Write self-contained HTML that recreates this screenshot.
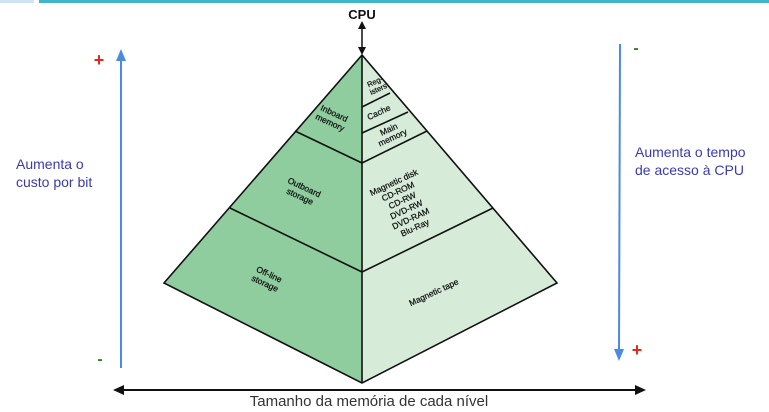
<!DOCTYPE html>
<html><head><meta charset="utf-8"><style>
html,body{margin:0;padding:0;background:#fff;}
svg{display:block;}
text{font-family:"Liberation Sans",sans-serif;}
</style></head><body>
<svg width="769" height="412" viewBox="0 0 769 412" xmlns="http://www.w3.org/2000/svg">
<rect x="0" y="0" width="34" height="3" fill="#cfe3f5"/>
<rect x="39" y="0" width="730" height="3" fill="#3fb6c8"/>
<polygon points="362,55 164,283 362,383" fill="#8fcd9f"/>
<polygon points="362,55 557,283 362,383" fill="#d6ecd9"/>
<g stroke="#111" stroke-width="1.6" fill="none">
<polygon points="362,55 164,283 362,383 557,283"/>
<line x1="362" y1="55" x2="362" y2="383"/>
<line x1="295" y1="131" x2="362" y2="163"/>
<line x1="230" y1="208" x2="362" y2="272"/>
<line x1="362" y1="163" x2="427" y2="131"/>
<line x1="362" y1="272" x2="493" y2="208"/>
<line x1="362" y1="107" x2="390" y2="93"/>
<line x1="362" y1="133" x2="408" y2="112"/>
</g>
<text x="362" y="19" font-size="13" font-weight="bold" text-anchor="middle" fill="#111">CPU</text>
<line x1="362" y1="27" x2="362" y2="50" stroke="#111" stroke-width="1.5"/>
<polygon points="362,21 358,29 366,29" fill="#111"/>
<polygon points="362,55 358,47 366,47" fill="#111"/>
<g font-size="8.5" fill="#111" text-anchor="middle" stroke="#111" stroke-width="0.25">
<text transform="translate(333,116) rotate(25)"><tspan x="0" y="0">Inboard</tspan><tspan x="0" y="10">memory</tspan></text>
<text transform="translate(303,190) rotate(25)"><tspan x="0" y="0">Outboard</tspan><tspan x="0" y="10">storage</tspan></text>
<text transform="translate(268,277) rotate(25)"><tspan x="0" y="0">Off-line</tspan><tspan x="0" y="10">storage</tspan></text>
<text transform="translate(376,84) rotate(-25)" font-size="7.5"><tspan x="0" y="0">Reg-</tspan><tspan x="0" y="8">isters</tspan></text>
<text transform="translate(380,115) rotate(-25)">Cache</text>
<text transform="translate(390,132) rotate(-25)"><tspan x="0" y="0">Main</tspan><tspan x="0" y="9">memory</tspan></text>
<text transform="translate(395,185) rotate(-25)"><tspan x="0" y="0">Magnetic disk</tspan><tspan x="0" y="10">CD-ROM</tspan><tspan x="0" y="20">CD-RW</tspan><tspan x="0" y="30">DVD-RW</tspan><tspan x="0" y="40">DVD-RAM</tspan><tspan x="0" y="50">Blu-Ray</tspan></text>
<text transform="translate(435,295) rotate(-25)">Magnetic tape</text>
</g>
<line x1="121" y1="58" x2="121" y2="368" stroke="#4a8be0" stroke-width="2"/>
<polygon points="121,49 116,61 126,61" fill="#4a8be0"/>
<text x="99" y="66" font-size="18" font-weight="bold" fill="#e8281e" text-anchor="middle">+</text>
<text x="100" y="364" font-size="16" font-weight="bold" fill="#3a7a2a" text-anchor="middle">-</text>
<text x="16" y="169" font-size="14" fill="#3a3ab0">Aumenta o</text>
<text x="16" y="187" font-size="14" fill="#3a3ab0">custo por bit</text>
<line x1="620" y1="44" x2="619" y2="352" stroke="#4a8be0" stroke-width="2"/>
<polygon points="619,361 614,349 624,349" fill="#4a8be0"/>
<text x="636" y="53" font-size="16" font-weight="bold" fill="#3a7a2a" text-anchor="middle">-</text>
<text x="637" y="356" font-size="18" font-weight="bold" fill="#e8281e" text-anchor="middle">+</text>
<text x="635" y="157" font-size="14" fill="#3a3ab0">Aumenta o tempo</text>
<text x="635" y="175" font-size="14" fill="#3a3ab0">de acesso à CPU</text>
<line x1="122" y1="390" x2="638" y2="390" stroke="#111" stroke-width="2"/>
<polygon points="113,390 124,385 124,395" fill="#111"/>
<polygon points="646,390 635,385 635,395" fill="#111"/>
<text x="369" y="406" font-size="15" fill="#333" text-anchor="middle">Tamanho da memória de cada nível</text>
</svg>
</body></html>
